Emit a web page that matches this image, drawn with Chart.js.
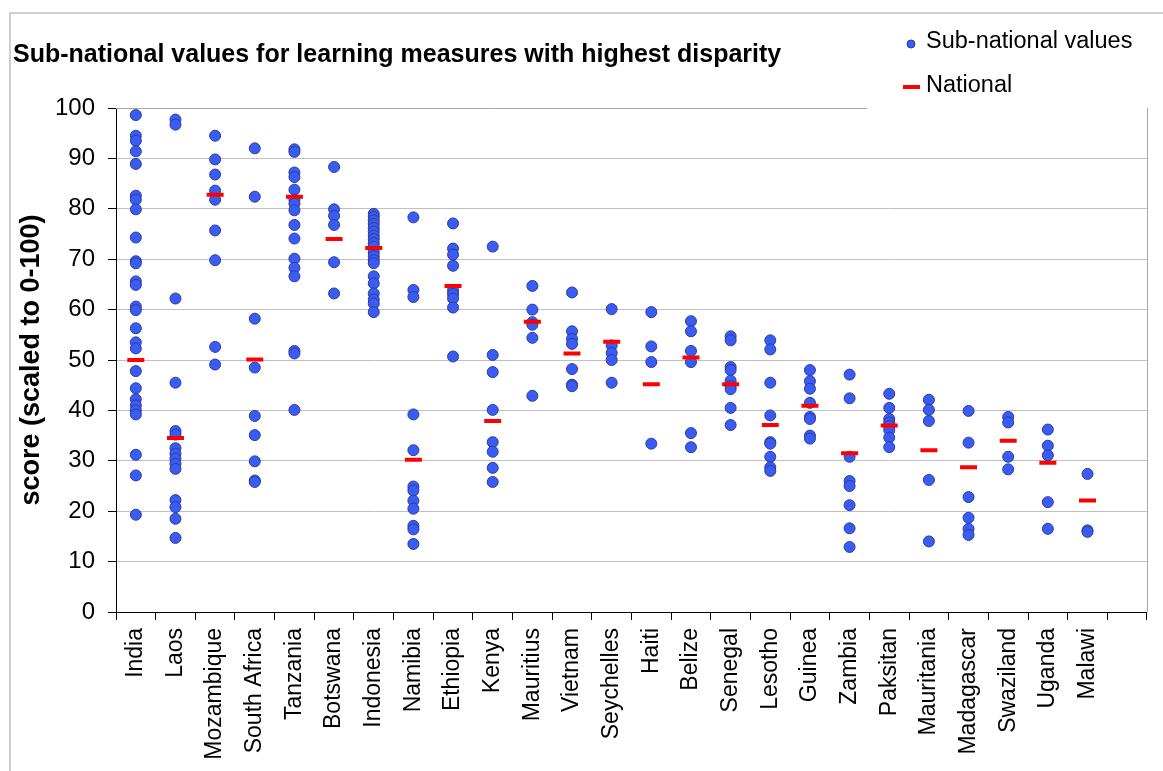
<!DOCTYPE html>
<html>
<head>
<meta charset="utf-8">
<title>Sub-national values for learning measures</title>
<script src="https://cdn.jsdelivr.net/npm/chart.js@4.4.0/dist/chart.umd.min.js"></script>
<style>
    body { margin: 0; background: #fff; }
    #wrap { width: 1163px; height: 771px; }
</style>
</head>
<body>
<div id="wrap"><canvas id="chart"></canvas></div>
<script>
// Countries in chart order (last slot left empty)
const countries = ['India', 'Laos', 'Mozambique', 'South Africa', 'Tanzania', 'Botswana',
    'Indonesia', 'Namibia', 'Ethiopia', 'Kenya', 'Mauritius', 'Vietnam', 'Seychelles',
    'Haiti', 'Belize', 'Senegal', 'Lesotho', 'Guinea', 'Zambia', 'Paksitan', 'Mauritania',
    'Madagascar', 'Swaziland', 'Uganda', 'Malawi', ''];

// National score per country
const national = [50.0, 34.5, 82.8, 50.1, 82.4, 74.0, 72.2, 30.2, 64.7, 37.9, 57.6, 51.3,
    53.6, 45.2, 50.5, 45.2, 37.1, 40.9, 31.5, 37.0, 32.1, 28.7, 34.0, 29.6, 22.1];

// Sub-national scores, one row per country
const subNational = [
    [98.6, 94.5, 93.5, 91.4, 88.9, 82.6, 81.8, 79.9, 74.3, 69.6, 69.2, 65.6, 64.9, 60.6,
     59.9, 56.3, 53.5, 52.3, 47.8, 44.4, 42.2, 41.0, 40.0, 39.2, 31.2, 27.1, 19.3],
    [97.7, 96.7, 62.2, 45.5, 35.9, 35.2, 32.5, 31.4, 30.4, 29.4, 28.4, 22.2, 20.8, 18.5, 14.7],
    [94.5, 89.8, 86.8, 83.6, 81.8, 75.7, 69.8, 52.6, 49.1],
    [92.0, 82.4, 58.2, 48.5, 38.9, 35.1, 29.9, 26.1, 25.8],
    [91.8, 91.3, 87.2, 86.3, 83.8, 81.8, 81.0, 79.7, 76.8, 74.1, 70.1, 68.3, 66.6, 51.8, 51.3, 40.1],
    [88.3, 79.9, 78.6, 76.8, 69.4, 63.2],
    [79.0, 78.4, 77.7, 77.0, 76.2, 75.5, 74.7, 74.0, 73.2, 72.5, 71.4, 70.6, 69.8, 69.2,
     66.6, 65.2, 63.2, 62.0, 61.2, 59.5],
    [78.3, 63.9, 62.5, 39.2, 32.1, 24.9, 24.1, 22.1, 20.5, 17.1, 16.4, 13.5],
    [77.1, 72.1, 70.9, 68.7, 63.8, 63.1, 62.2, 60.4, 50.7],
    [72.5, 51.0, 47.6, 40.1, 33.7, 31.8, 28.6, 25.8],
    [64.7, 60.0, 57.5, 57.0, 54.4, 42.9],
    [63.4, 55.7, 54.2, 53.2, 48.2, 45.1, 44.8],
    [60.1, 52.9, 51.4, 50.0, 45.5],
    [59.5, 52.7, 49.6, 33.4],
    [57.7, 55.7, 51.8, 49.6, 35.5, 32.7],
    [54.7, 53.9, 48.6, 48.0, 45.9, 44.8, 44.2, 40.5, 37.1],
    [53.9, 52.1, 45.5, 39.0, 33.7, 33.4, 30.8, 28.7, 28.0],
    [48.0, 45.8, 44.3, 41.5, 38.7, 38.3, 35.0, 34.4],
    [47.1, 42.4, 30.8, 26.0, 25.0, 21.2, 16.6, 12.9],
    [43.3, 40.5, 38.3, 37.6, 36.9, 36.1, 34.6, 32.7],
    [42.1, 40.1, 37.9, 26.2, 14.0],
    [39.9, 33.6, 22.8, 18.7, 16.5, 15.3],
    [38.7, 37.6, 30.8, 28.3],
    [36.2, 33.0, 31.1, 21.8, 16.5],
    [27.4, 16.2, 15.9]
];

const yTicks = [0, 10, 20, 30, 40, 50, 60, 70, 80, 90, 100];

const FONT = '"Liberation Sans", Arial, sans-serif';
const DOT_FILL = '#3a5cf2';
const DOT_EDGE = '#2c3c9e';
const NAT_RED = '#ff0000';

Chart.defaults.font.family = FONT;
Chart.defaults.color = '#000';

// Build point lists from the arrays
const subPoints = [];
subNational.forEach((values, i) => {
    values.forEach(v => subPoints.push({ x: countries[i], y: v }));
});
const natPoints = national.map((v, i) => ({ x: countries[i], y: v }));

// Outer border, plot area top/right edge
const framePlugin = {
    id: 'frame',
    beforeDatasetsDraw(chart) {
        const { ctx, chartArea: a } = chart;
        ctx.save();
        ctx.strokeStyle = '#cfcfcf';
        ctx.lineWidth = 2;
        ctx.strokeRect(10, 13, chart.width + 20, chart.height + 20);

        ctx.strokeStyle = '#a6a6a6';
        ctx.lineWidth = 1;
        ctx.beginPath();
        ctx.moveTo(a.left, a.top + 0.5);
        ctx.lineTo(867, a.top + 0.5);
        ctx.moveTo(a.right + 0.5, a.top);
        ctx.lineTo(a.right + 0.5, a.bottom);
        ctx.stroke();
        ctx.restore();
    }
};

// Legend stacked in the top right corner
const legendPlugin = {
    id: 'cornerLegend',
    afterDraw(chart) {
        const { ctx } = chart;
        const nat = chart.data.datasets[0];
        const sub = chart.data.datasets[1];
        ctx.save();
        ctx.beginPath();
        ctx.arc(911, 44, 4, 0, Math.PI * 2);
        ctx.fillStyle = sub.backgroundColor;
        ctx.fill();
        ctx.strokeStyle = sub.borderColor;
        ctx.lineWidth = 1;
        ctx.stroke();

        ctx.beginPath();
        ctx.moveTo(903, 87);
        ctx.lineTo(920, 87);
        ctx.strokeStyle = nat.borderColor;
        ctx.lineWidth = 4;
        ctx.stroke();

        ctx.fillStyle = '#000';
        ctx.font = '23.5px ' + FONT;
        ctx.textBaseline = 'middle';
        ctx.fillText(sub.label, 926, 42);
        ctx.fillText(nat.label, 926, 86);
        ctx.restore();
    }
};

const ctx = document.getElementById('chart').getContext('2d');
new Chart(ctx, {
    type: 'line',
    data: {
        labels: countries,
        datasets: [{
            label: 'National',
            data: natPoints,
            showLine: false,
            order: 0,
            pointStyle: 'line',
            pointRadius: 8.5,
            pointHoverRadius: 8.5,
            borderColor: NAT_RED,
            backgroundColor: NAT_RED,
            pointBorderWidth: 4
        }, {
            label: 'Sub-national values',
            data: subPoints,
            showLine: false,
            order: 1,
            pointStyle: 'circle',
            pointRadius: 5.5,
            pointHoverRadius: 5.5,
            backgroundColor: DOT_FILL,
            borderColor: DOT_EDGE,
            pointBorderWidth: 1
        }]
    },
    options: {
        responsive: true,
        maintainAspectRatio: false,
        animation: false,
        layout: { padding: { top: 13, left: 13, right: 4, bottom: 0 } },
        plugins: {
            legend: { display: false },
            tooltip: { enabled: false },
            title: {
                display: true,
                text: 'Sub-national values for learning measures with highest disparity',
                align: 'start',
                color: '#000',
                font: { size: 25, weight: 'bold' },
                padding: { top: 27, bottom: 38 }
            }
        },
        scales: {
            x: {
                type: 'category',
                labels: countries,
                offset: true,
                grid: { offset: true, drawOnChartArea: false, tickColor: '#000', tickLength: 8 },
                border: { color: '#000' },
                ticks: {
                    autoSkip: false,
                    minRotation: 90,
                    maxRotation: 90,
                    padding: 8,
                    color: '#000',
                    font: { size: 23 }
                },
                afterFit(scale) { scale.height = 159; }
            },
            y: {
                min: 0,
                max: 100,
                afterBuildTicks(scale) { scale.ticks = yTicks.map(v => ({ value: v })); },
                grid: {
                    color: c => (c.tick && c.tick.value === 100) ? 'rgba(0,0,0,0)' : '#c0c0c0',
                    tickColor: '#000',
                    tickLength: 8
                },
                border: { color: '#000' },
                ticks: { padding: 13, color: '#000', font: { size: 24 } },
                title: {
                    display: true,
                    text: 'score (scaled to 0-100)',
                    color: '#000',
                    font: { size: 27, weight: 'bold' },
                    padding: { top: 2, bottom: 0 }
                },
                afterFit(scale) { scale.width = 103; }
            }
        }
    },
    plugins: [framePlugin, legendPlugin]
});
</script>
</body>
</html>
